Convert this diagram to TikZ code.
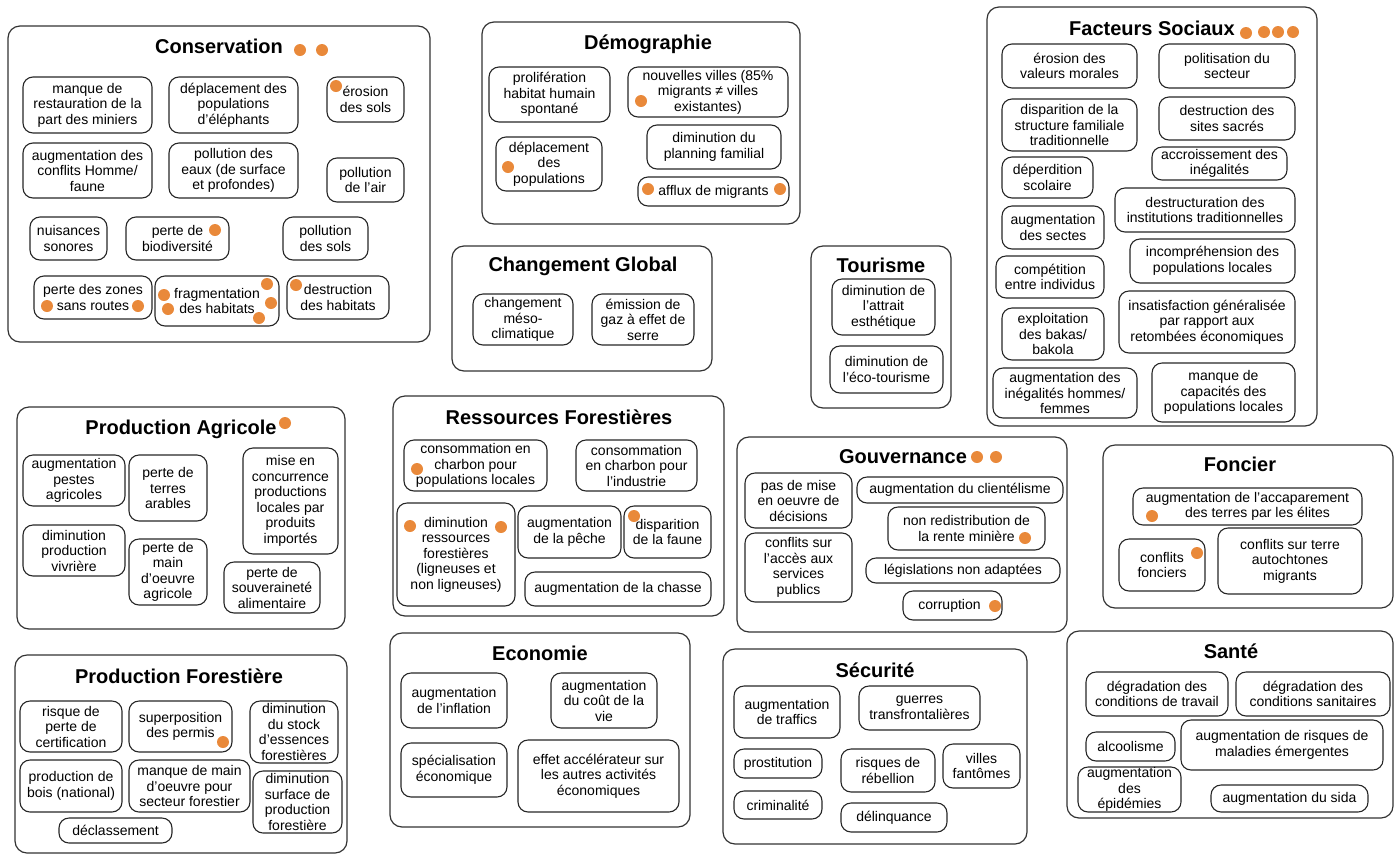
\documentclass[tikz,border=0pt]{standalone}
\usepackage{fontspec}
\setmainfont{Liberation Sans}
\definecolor{dotorange}{RGB}{233,137,58}
\tikzset{
        % Box from its corners: left/top/right/bottom
        corners/.style args={#1/#2/#3/#4}{minimum width={#3-#1}, minimum height={#4-#2}, at={({(#1+#3)/2},{(#2+#4)/2})}},
        % Category frames
        group_frame/.style={draw=black!80, line width=1.2pt, rounded corners=12pt, inner sep=0pt},
        % Category titles
        group_title/.style={anchor=base, inner sep=0pt, font=\fontsize{20}{24}\selectfont\bfseries},
        % Impact boxes
        impact/.style={draw=black!85, line width=1.1pt, rounded corners=10pt, inner sep=0pt, align=center, font=\fontsize{14}{15.5}\selectfont},
        % Orange markers
        marker_dot/.style={circle, fill=dotorange, inner sep=0pt, minimum size=12pt}
}
\begin{document}
\begin{tikzpicture}[x=1pt, y=-1pt]
\useasboundingbox (0,0) rectangle (1395,855);

% Frames
\node[group_frame, corners=8/26/430/342] (conservation) {};
\node[group_frame, corners=482/22/800/224] (demographie) {};
\node[group_frame, corners=987/7/1317/426] (social) {};
\node[group_frame, corners=452/246/712/371] (global) {};
\node[group_frame, corners=811/246/951/408] (tourisme) {};
\node[group_frame, corners=17/407/345/629] (agricole) {};
\node[group_frame, corners=393/396/724/616] (ressources) {};
\node[group_frame, corners=737/437/1067/632] (gouvernance) {};
\node[group_frame, corners=1103/445/1393/608] (foncier) {};
\node[group_frame, corners=15/655/347/853] (forestiere) {};
\node[group_frame, corners=390/633/690/827] (economie) {};
\node[group_frame, corners=723/649/1027/844] (securite) {};
\node[group_frame, corners=1067/631/1393/818] (sante) {};

% Titles
\node[group_title] (conservation-t) at (219,53) {Conservation};
\node[group_title] (demographie-t) at (648,49) {Démographie};
\node[group_title] (social-t) at (1152,35) {Facteurs Sociaux};
\node[group_title] (global-t) at (583,271) {Changement Global};
\node[group_title] (tourisme-t) at (881,272) {Tourisme};
\node[group_title] (agricole-t) at (181,434) {Production Agricole};
\node[group_title] (ressources-t) at (559,424) {Ressources Forestières};
\node[group_title] (gouvernance-t) at (903,463) {Gouvernance};
\node[group_title] (foncier-t) at (1240,471) {Foncier};
\node[group_title] (forestiere-t) at (179,683) {Production Forestière};
\node[group_title] (economie-t) at (540,660) {Economie};
\node[group_title] (securite-t) at (875,677) {Sécurité};
\node[group_title] (sante-t) at (1231,658) {Santé};

% Conservation
\node[impact, corners=23/77/152/133] (c1) {manque de\\restauration de la\\part des miniers};
\node[impact, corners=169/77/298/133] (c2) {déplacement des\\populations\\d’éléphants};
\node[impact, corners=327/77/404/122] (c3) {érosion\\des sols};
\node[impact, corners=23/143/152/198] (c4) {augmentation des\\conflits Homme/\\faune};
\node[impact, corners=169/143/298/198] (c5) {pollution des\\eaux (de surface\\et profondes)};
\node[impact, corners=327/158/404/202] (c6) {pollution\\de l’air};
\node[impact, corners=30/217/107/260] (c7) {nuisances\\sonores};
\node[impact, corners=126/217/229/260] (c8) {perte de\\biodiversité};
\node[impact, corners=283/217/368/260] (c9) {pollution\\des sols};
\node[impact, corners=34/276/152/319] (c10) {perte des zones\\sans routes};
\node[impact, corners=155/276/279/326] (c11) {fragmentation\\des habitats};
\node[impact, corners=287/276/389/319] (c12) {destruction\\des habitats};

% Demographie
\node[impact, corners=489/67/610/122] (d1) {prolifération\\habitat humain\\spontané};
\node[impact, corners=628/67/788/117] (d2) {nouvelles villes (85\%\\migrants ≠ villes\\existantes)};
\node[impact, corners=496/137/602/191] (d3) {déplacement\\des\\populations};
\node[impact, corners=647/125/781/169] (d4) {diminution du\\planning familial};
\node[impact, corners=638/177/789/206] (d5) {afflux de migrants};

% Facteurs sociaux
\node[impact, corners=1002/44/1137/88] (f1) {érosion des\\valeurs morales};
\node[impact, corners=1159/44/1295/88] (f2) {politisation du\\secteur};
\node[impact, corners=1002/99/1137/151] (f3) {disparition de la\\structure familiale\\traditionnelle};
\node[impact, corners=1159/97/1295/140] (f4) {destruction des\\sites sacrés};
\node[impact, corners=1152/147/1287/180] (f5) {accroissement des\\inégalités};
\node[impact, corners=1002/157/1093/198] (f6) {déperdition\\scolaire};
\node[impact, corners=1115/188/1295/232] (f7) {destructuration des\\institutions traditionnelles};
\node[impact, corners=1002/206/1104/249] (f8) {augmentation\\des sectes};
\node[impact, corners=1130/239/1295/283] (f9) {incompréhension des\\populations locales};
\node[impact, corners=996/256/1104/298] (f10) {compétition\\entre individus};
\node[impact, corners=1002/308/1104/360] (f11) {exploitation\\des bakas/\\bakola};
\node[impact, corners=1119/291/1295/353] (f12) {insatisfaction généralisée\\par rapport aux\\retombées économiques};
\node[impact, corners=993/368/1137/418] (f13) {augmentation des\\inégalités hommes/\\femmes};
\node[impact, corners=1152/363/1295/422] (f14) {manque de\\capacités des\\populations locales};

% Changement global, tourisme
\node[impact, corners=473/294/573/345] (g1) {changement\\méso-\\climatique};
\node[impact, corners=592/294/694/345] (g2) {émission de\\gaz à effet de\\serre};
\node[impact, corners=832/279/935/335] (t1) {diminution de\\l’attrait\\esthétique};
\node[impact, corners=830/346/943/393] (t2) {diminution de\\l’éco-tourisme};

% Production agricole
\node[impact, corners=23/455/125/506] (a1) {augmentation\\pestes\\agricoles};
\node[impact, corners=129/455/207/521] (a2) {perte de\\terres\\arables};
\node[impact, corners=243/448/338/554] (a3) {mise en\\concurrence\\productions\\locales par\\produits\\importés};
\node[impact, corners=23/525/125/576] (a4) {diminution\\production\\vivrière};
\node[impact, corners=129/539/207/605] (a5) {perte de\\main\\d’oeuvre\\agricole};
\node[impact, corners=224/562/320/613] (a6) {perte de\\souveraineté\\alimentaire};

% Ressources forestieres
\node[impact, corners=404/440/547/491] (r1) {consommation en\\charbon pour\\populations locales};
\node[impact, corners=576/440/697/491] (r2) {consommation\\en charbon pour\\l’industrie};
\node[impact, corners=397/503/515/606] (r3) {diminution\\ressources\\forestières\\(ligneuses et\\non ligneuses)};
\node[impact, corners=518/506/621/558] (r4) {augmentation\\de la pêche};
\node[impact, corners=624/506/711/558] (r5) {disparition\\de la faune};
\node[impact, corners=525/572/711/606] (r6) {augmentation de la chasse};

% Gouvernance
\node[impact, corners=745/473/852/528] (v1) {pas de mise\\en oeuvre de\\décisions};
\node[impact, corners=857/477/1063/503] (v2) {augmentation du clientélisme};
\node[impact, corners=888/507/1045/550] (v3) {non redistribution de\\la rente minière\hspace{12pt}};
\node[impact, corners=745/533/852/602] (v4) {conflits sur\\l’accès aux\\services\\publics};
\node[impact, corners=866/558/1060/583] (v5) {législations non adaptées};
\node[impact, corners=903/591/1002/620] (v6) {corruption\hspace{6pt}};

% Foncier
\node[impact, corners=1133/488/1362/525] (o1) {augmentation de l’accaparement\\\hspace{20pt}des terres par les élites};
\node[impact, corners=1119/539/1205/591] (o2) {conflits\hspace{6pt}\\fonciers};
\node[impact, corners=1218/528/1362/594] (o3) {conflits sur terre\\autochtones\\migrants};

% Production forestiere
\node[impact, corners=20/701/122/752] (p1) {risque de\\perte de\\certification};
\node[impact, corners=129/701/232/752] (p2) {superposition\\des permis};
\node[impact, corners=250/701/338/763] (p3) {diminution\\du stock\\d’essences\\forestières};
\node[impact, corners=20/760/122/812] (p4) {production de\\bois (national)};
\node[impact, corners=129/760/250/812] (p5) {manque de main\\d’oeuvre pour\\secteur forestier};
\node[impact, corners=253/771/342/833] (p6) {diminution\\surface de\\production\\forestière};
\node[impact, corners=59/818/172/843] (p7) {déclassement};

% Economie
\node[impact, corners=401/673/507/728] (e1) {augmentation\\de l’inflation};
\node[impact, corners=551/673/657/728] (e2) {augmentation\\du coût de la\\vie};
\node[impact, corners=401/743/507/797] (e3) {spécialisation\\économique};
\node[impact, corners=518/740/679/812] (e4) {effet accélérateur sur\\les autres activités\\économiques};

% Securite
\node[impact, corners=734/686/840/738] (s1) {augmentation\\de traffics};
\node[impact, corners=859/686/980/730] (s2) {guerres\\transfrontalières};
\node[impact, corners=734/749/822/778] (s3) {prostitution};
\node[impact, corners=841/749/935/792] (s4) {risques de\\rébellion};
\node[impact, corners=943/744/1020/788] (s5) {villes\\fantômes};
\node[impact, corners=734/791/822/819] (s6) {criminalité};
\node[impact, corners=841/803/947/832] (s7) {délinquance};

% Sante
\node[impact, corners=1086/672/1228/716] (h1) {dégradation des\\conditions de travail};
\node[impact, corners=1236/672/1390/716] (h2) {dégradation des\\conditions sanitaires};
\node[impact, corners=1086/732/1175/761] (h3) {alcoolisme};
\node[impact, corners=1181/720/1383/770] (h4) {augmentation de risques de\\maladies émergentes};
\node[impact, corners=1078/767/1181/812] (h5) {augmentation\\des\\épidémies};
\node[impact, corners=1211/785/1368/812] (h6) {augmentation du sida};

% Markers
\foreach \x/\y [count=\i] in {300/50, 322/50, 336/86, 215/230, 47/306, 138/306,
        164/295, 168/309, 267/284, 271/303, 259/318, 296/285,
        641/101, 508/167, 648/189, 780/189,
        1246/33, 1264/32, 1278/32, 1293/32,
        285/423, 417/469, 410/526, 501/527, 634/516,
        977/457, 996/457, 1025/538, 995/606,
        1152/516, 1197/553, 223/742}
    \node[marker_dot] (dot-\i) at (\x,\y) {};
\end{tikzpicture}
\end{document}
